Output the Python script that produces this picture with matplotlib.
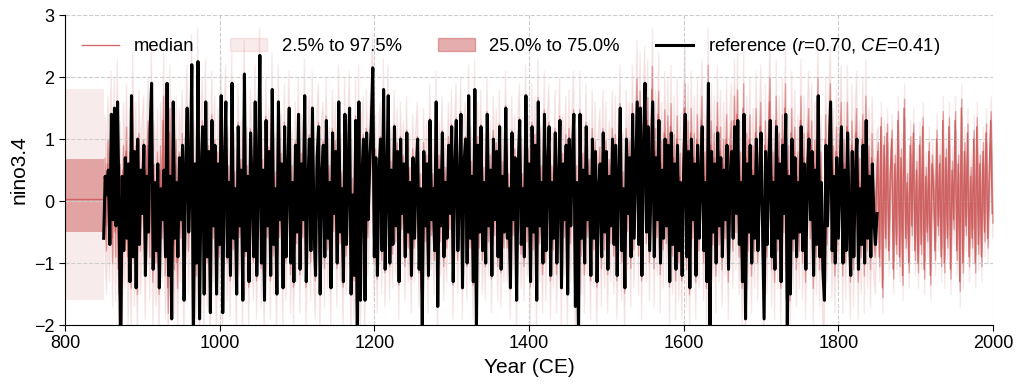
import numpy as np
import matplotlib
matplotlib.use('Agg')
import matplotlib.pyplot as plt

plt.rcParams['font.family'] = ['Liberation Sans', 'DejaVu Sans']
plt.rcParams['font.size'] = 13
plt.rcParams['mathtext.fontset'] = 'custom'
plt.rcParams['mathtext.it'] = 'Liberation Sans:italic'
plt.rcParams['mathtext.rm'] = 'Liberation Sans'

# reference series, every 2nd year 850..1850
ref_years = np.arange(850, 1851, 2)
ref_vals = [
    -0.6, 0.4, 0.1, 0.5, -0.7, 1.4, -0.3, 1.5, -0.4, 1.6, -0.2, -2.4, 0.4, -0.8, 0.7, -0.6, 0.6, -1.3, 1.7, -0.9, 0.8, -1.4, 1.0, -0.7, 0.5,
    -0.2, 0.9, -1.2, 0.4, -0.5, 1.1, 1.9, -1.1, 0.3, -0.8, 0.6, -1.4, 0.2, -0.3, 0.5, -0.9, 1.9, -1.2, 0.4, -1.9, 1.6, -0.6, 0.3, -0.9, 0.7,
    -0.3, 0.9, -1.6, 0.5, 1.5, -0.5, 0.3, 2.2, -2.3, 0.6, -1.0, 2.25, -1.9, 0.4, 1.2, -1.5, 1.6, -0.9, 0.8, -1.8, 1.3, -0.4, 0.9, -1.5, 0.6,
    -0.7, 1.7, -1.8, 0.5, 1.6, -0.9, 0.3, -1.2, 1.9, -0.6, 0.2, -1.5, 1.2, -0.4, 0.5, -1.6, 2.05, -0.8, 0.4, -1.3, 1.1, 0.2, -0.9, 1.6, -1.2,
    0.3, 2.35, -1.0, 0.5, -1.6, 1.3, -0.4, 0.8, -1.2, 1.8, -0.7, 0.2, -1.5, 1.6, -0.3, 0.6, -1.4, 1.2, -0.9, 0.4, 1.5, -1.0, 0.3, -1.3, 0.9,
    -0.5, 1.4, -1.1, 0.6, -0.3, 1.7, -1.3, 0.2, 1.0, -0.8, 1.5, -0.4, -1.2, 0.7, 1.2, -1.5, 0.4, 0.9, -0.9, 1.3, -0.6, 0.3, -1.4, 1.1, -0.2,
    0.8, -1.0, 1.6, -0.5, 0.2, -1.3, 1.4, -0.7, 0.5, 1.5, -1.5, 0.1, -1.2, 1.3, -2.4, 1.6, -1.6, 0.4, 1.0, -1.6, 1.1, -0.3, 0.6, 1.2, 2.15,
    -0.9, 0.7, -1.2, 0.4, 1.0, -0.8, 1.8, -1.1, 0.2, 1.7, -1.0, 0.5, -0.7, 1.2, -0.4, 0.8, -1.3, 1.0, -0.2, 0.6, -0.9, 1.1, -0.5, 0.3, -1.2,
    0.7, -0.6, 0.4, 1.0, -1.1, 0.2, -2.0, 0.8, -0.4, 0.6, -1.2, 1.3, -0.3, 0.2, -0.8, 1.6, -1.7, 0.5, -0.4, 1.1, -0.9, 0.3, -0.6, 0.9, -0.2,
    1.2, -1.3, 0.5, 1.3, -0.8, 0.1, 1.4, -1.4, 0.6, 1.0, -1.0, 1.7, -0.6, 0.4, -1.3, 1.8, -2.1, 0.9, -0.5, 1.2, -0.8, 0.3, -1.0, 1.4, -0.4,
    0.5, -1.2, 1.0, -0.3, 0.8, -0.9, 1.2, -1.1, 0.4, -0.5, 1.5, -0.6, 0.2, -1.4, 1.1, -0.3, 0.7, -1.6, 0.5, 1.3, -0.7, 0.2, -0.9, 1.7, -0.4,
    0.6, -1.3, 1.2, -0.5, 0.9, -1.6, 1.6, -0.4, 0.3, -1.0, 1.4, -0.8, 0.5, 1.2, -1.2, 0.3, -0.6, 1.1, -1.0, 0.2, 1.3, -1.4, 0.6, -0.3, 0.9,
    -1.5, 1.0, -0.4, 0.7, 1.4, -1.7, 0.3, -2.2, 1.4, -0.6, 0.5, -1.0, 1.2, -0.3, 0.4, -1.2, 1.0, -0.6, 0.8, -1.3, 0.2, 0.6, -0.9, 1.1, -0.5,
    0.8, -1.1, 0.4, -0.4, 1.0, -0.7, 0.9, -1.2, 0.3, 1.5, -0.8, 0.2, -1.4, 1.0, -0.2, 0.7, -0.9, 1.4, -0.6, 0.5, 1.6, -0.7, 1.5, -1.2, 0.8,
    1.9, -0.5, 1.2, -0.8, 0.4, 1.6, -0.9, 0.7, -0.3, 1.3, -1.0, 0.5, -0.6, 1.0, -0.4, 0.9, -1.3, 1.1, -0.7, 0.6, -1.1, 0.9, -0.8, 0.3, -1.2,
    0.5, 1.4, -0.9, 0.8, -1.4, 1.0, -0.3, 0.6, -1.2, 0.9, -0.6, 0.4, 1.2, -0.8, 0.3, -1.3, 1.9, -2.3, 0.8, -0.5, 0.6, -1.0, 1.1, -0.4, 0.7,
    -0.9, 0.5, -0.3, 0.9, -1.1, 0.4, 0.8, -0.6, 1.2, -0.2, 1.3, -0.7, 0.3, -1.3, 1.4, -1.9, 0.6, -0.5, 0.9, -1.0, 0.4, -0.6, 1.0, -0.8, 0.2,
    1.1, -0.4, -1.9, 0.8, -0.7, 0.5, 1.3, -0.9, 0.3, -1.1, 1.2, -0.6, 0.6, -1.3, 0.9, -0.2, 1.4, -2.1, 0.4, -1.5, 1.0, -0.6, 0.7, -0.9, 0.3,
    -0.5, 1.2, -0.8, 0.6, -1.1, 0.4, 1.0, -0.3, 0.8, -1.2, 0.5, -0.7, 1.7, -0.9, 0.3, -1.1, -1.6, 0.9, -0.4, 0.6, 1.6, -0.8, 0.4, -1.0, 0.7,
    -0.6, 0.3, 1.2, -1.0, 0.5, -0.8, 1.1, -0.3, -1.2, 0.8, -0.9, 0.4, 1.0, -1.1, 0.2, -0.7, 0.9, -1.0, 1.3, -0.6, 0.4, -0.9, 0.6, -0.3, -0.7,
    -0.2,
]

# reconstruction median, every 2nd year 851..1999
med_years = np.arange(851, 2000, 2)
med_vals = [
    0.3, -0.4, 0.6, -0.2, 1.0, -0.6, 0.9, -0.5, 1.2, -1.1, 0.2, -1.6, 0.5, -0.3, 0.8, -0.9, 0.4, -1.0, 1.3, -0.6, 0.5, -1.1, 0.7, -0.4, 0.2,
    0.6, -0.8, 0.3, 0.9, -0.5, 1.4, -0.9, 0.2, -0.6, 0.4, -1.1, 0.5, -0.2, 1.3, -0.8, 0.3, -1.4, 1.1, -0.3, 0.2, -0.7, 0.6, -1.0, 0.4, -0.2,
    0.7, -1.2, 0.3, 1.1, -0.4, 0.5, 1.6, -1.7, 0.2, -0.8, 1.7, -1.4, 0.3, 0.9, -1.1, 1.2, -0.6, 0.5, -1.3, 1.0, -0.2, 0.6, -1.1, 0.4, -0.5,
    1.3, -1.3, 0.3, 1.2, -0.6, 0.2, -0.9, 1.4, -0.4, 0.1, -1.1, 0.9, -0.2, 0.3, -1.2, 1.6, -0.5, 0.2, -1.0, 0.8, 0.1, -0.6, 1.2, -0.9, 0.2,
    1.8, -0.7, 0.3, -1.2, 1.0, -0.2, 0.5, -0.9, 1.4, -0.5, 0.1, -1.1, 1.2, -0.2, 0.4, -1.0, 0.9, -0.6, 0.2, 1.1, -0.8, 0.2, -1.0, 0.6, -0.3,
    1.0, -0.8, 0.4, -0.2, 1.3, -1.0, 0.1, 0.7, -0.6, 1.1, -0.3, -0.9, 0.5, 0.9, -1.1, 0.3, 0.6, -0.7, 1.0, -0.4, 0.2, -1.0, 0.8, -0.1, 0.6,
    -0.7, 1.2, -0.3, 0.1, -1.0, 1.0, -0.5, 0.3, 1.1, -1.1, 0.0, -0.9, 1.0, -1.7, 1.2, -1.2, 0.3, 0.7, -1.2, 0.8, -0.2, 0.4, 0.9, 1.7, -0.6,
    0.5, -0.9, 0.3, 0.7, -0.6, 1.4, -0.8, 0.1, 1.3, -0.7, 0.3, -0.5, 0.9, -0.3, 0.6, -1.0, 0.7, -0.1, 0.4, -0.7, 0.8, -0.4, 0.2, -0.9, 0.5,
    -0.4, 0.3, 0.7, -0.8, 0.1, -1.5, 0.6, -0.3, 0.4, -0.9, 1.0, -0.2, 0.1, -0.6, 1.2, -1.3, 0.4, -0.3, 0.8, -0.7, 0.2, -0.4, 0.7, -0.1, 0.9,
    -1.0, 0.4, 1.0, -0.6, 0.1, 1.1, -1.0, 0.4, 0.7, -0.7, 1.3, -0.4, 0.3, -1.0, 1.4, -1.6, 0.7, -0.4, 0.9, -0.6, 0.2, -0.7, 1.1, -0.3, 0.4,
    -0.9, 0.8, -0.2, 0.6, -0.7, 0.9, -0.8, 0.3, -0.4, 1.2, -0.4, 0.1, -1.0, 0.8, -0.2, 0.5, -1.2, 0.4, 1.0, -0.5, 0.1, -0.7, 1.3, -0.3, 0.5,
    -1.0, 0.9, -0.4, 0.7, -1.2, 1.3, -0.3, 0.2, -0.8, 1.1, -0.6, 0.4, 0.9, -0.9, 0.2, -0.4, 0.8, -0.8, 0.1, 1.0, -1.0, 0.4, -0.2, 0.7, -1.1,
    0.8, -0.3, 0.5, 1.1, -1.3, 0.2, -1.7, 1.1, -0.5, 0.4, -0.8, 0.9, -0.2, 0.3, -0.9, 0.8, -0.4, 0.6, -1.0, 0.1, 0.5, -0.7, 0.8, -0.4, 0.6,
    -0.8, 0.3, -0.3, 0.8, -0.5, 0.7, -0.9, 0.2, 1.2, -0.6, 0.1, -1.1, 0.8, -0.1, 0.6, -0.7, 1.2, -0.4, 0.5, 1.6, -0.5, 1.4, -0.9, 0.7, 1.5,
    -0.3, 1.3, -0.6, 0.5, 1.8, -0.7, 0.8, -0.2, 1.4, -0.8, 0.6, -0.4, 1.1, -0.3, 1.0, -1.0, 1.2, -0.5, 0.7, -0.9, 1.0, -0.6, 0.4, -0.9, 0.6,
    1.5, -0.7, 0.9, -1.1, 1.1, -0.2, 0.7, -0.9, 1.0, -0.4, 0.5, 1.3, -0.6, 0.4, -1.0, 1.8, -1.7, 0.9, -0.3, 0.7, -0.8, 1.2, -0.3, 0.8, -0.7,
    0.6, -0.2, 1.0, -0.9, 0.5, 0.9, -0.4, 1.3, -0.1, 1.4, -0.5, 0.4, -1.0, 1.5, -1.5, 0.7, -0.4, 1.0, -0.8, 0.5, -0.4, 1.1, -0.6, 0.3, 1.2,
    -0.3, -1.4, 0.9, -0.5, 0.6, 1.6, -0.7, 0.4, -0.9, 1.3, -0.4, 0.7, -1.0, 1.0, -0.1, 1.5, -1.6, 0.5, -1.2, 1.1, -0.4, 0.8, -0.7, 0.4, -0.4,
    1.3, -0.6, 0.7, -0.9, 0.5, 1.1, -0.2, 0.9, -1.0, 0.6, -0.5, 1.6, -0.7, 0.4, -0.9, -1.2, 1.0, -0.3, 0.7, 1.5, -0.6, 0.5, -0.8, 0.8, -0.4,
    0.4, 1.2, -0.8, 0.6, -0.6, 1.2, -0.2, -0.9, 0.9, -0.7, 0.5, 1.1, -0.9, 0.3, -0.5, 1.0, -0.8, 1.3, -0.4, 0.5, -0.7, 0.7, -0.2, -0.5, 0.1,
    0.8, -0.9, 1.2, -1.4, 0.9, -0.6, 1.1, -0.8, 0.4, 1.0, -1.1, 0.6, -0.7, 1.3, -0.9, 0.7, -1.2, 1.5, -0.6, 0.3, -1.0, 0.9, -0.4, 1.1, -0.8,
    0.5, -1.0, 0.9, -0.7, 1.2, -1.1, 0.4, -0.5, 0.8, -1.2, 0.6, 0.2, -0.8, 1.0, -0.4, 0.6, -0.9, 1.3, -1.0, 0.7, -0.6, 1.2, -1.1, 0.5, -0.3,
    1.3, -0.8, 0.6, -1.3, 1.5, -1.0, 0.8, -0.4, 1.1, -0.9, 0.4, -0.6, 1.0, -1.0, 1.2, -0.7, 0.6, -0.9, 0.8, -0.5, 1.1, -0.6, 0.4, 1.3, -0.2,
]

# spread of the ensemble by era (half widths around the median)
era_edges = [850, 1000, 1200, 1400, 1600, 1850]
iqr_half = [0.4, 0.38, 0.35, 0.38, 0.4, 0.15]
ci_half = [1.1, 1.0, 0.9, 1.0, 1.0, 0.4]

# prior block before the reconstruction
prior_years = [800, 850]
prior_median = 0.04
prior_iqr = (-0.5, 0.68)
prior_ci = (-1.6, 1.8)

col = 'indianred'

med = np.array(med_vals)
era = np.searchsorted(era_edges, med_years, side='right') - 1
h1 = np.array(iqr_half)[era]
h2 = np.array(ci_half)[era]

fig = plt.figure(figsize=(10.25, 3.87), dpi=100)
ax = fig.add_axes([0.0634, 0.160, 0.9054, 0.801])

ax.fill_between(prior_years, prior_ci[0], prior_ci[1], color=col, alpha=0.12, lw=0)
ax.fill_between(prior_years, prior_iqr[0], prior_iqr[1], color=col, alpha=0.5, lw=0)
ax.plot(prior_years, [prior_median] * 2, color=col, lw=1, alpha=0.9)

ax.fill_between(med_years, med - h2, med + h2, color=col, alpha=0.12, lw=1, label='2.5% to 97.5%')
ax.fill_between(med_years, med - h1, med + h1, color=col, alpha=0.5, lw=1, label='25.0% to 75.0%')
ax.plot(med_years, med, color=col, lw=1, alpha=0.9, label='median')
ax.plot(ref_years, ref_vals, color='black', lw=2.2, label='reference ($r$=0.70, $CE$=0.41)')

ax.set_xlim(800, 2000)
ax.set_ylim(-2, 3)
ax.set_xticks(range(800, 2001, 200))
ax.set_yticks(range(-2, 4))
ax.set_xlabel('Year (CE)', fontsize=15)
ax.set_ylabel('nino3.4', fontsize=15)
ax.grid(True, ls='--', color='#cccccc', lw=0.8)
ax.spines['top'].set_visible(False)
ax.spines['right'].set_visible(False)
ax.tick_params(direction='out', length=4)

h, l = ax.get_legend_handles_labels()
order = [2, 0, 1, 3]
ax.legend([h[i] for i in order], [l[i] for i in order], loc='upper left', ncol=4,
          frameon=False, bbox_to_anchor=(0.0, 0.985), handlelength=2.0, columnspacing=1.95,
          fontsize=13.3)

fig.savefig('out.png', dpi=100)
